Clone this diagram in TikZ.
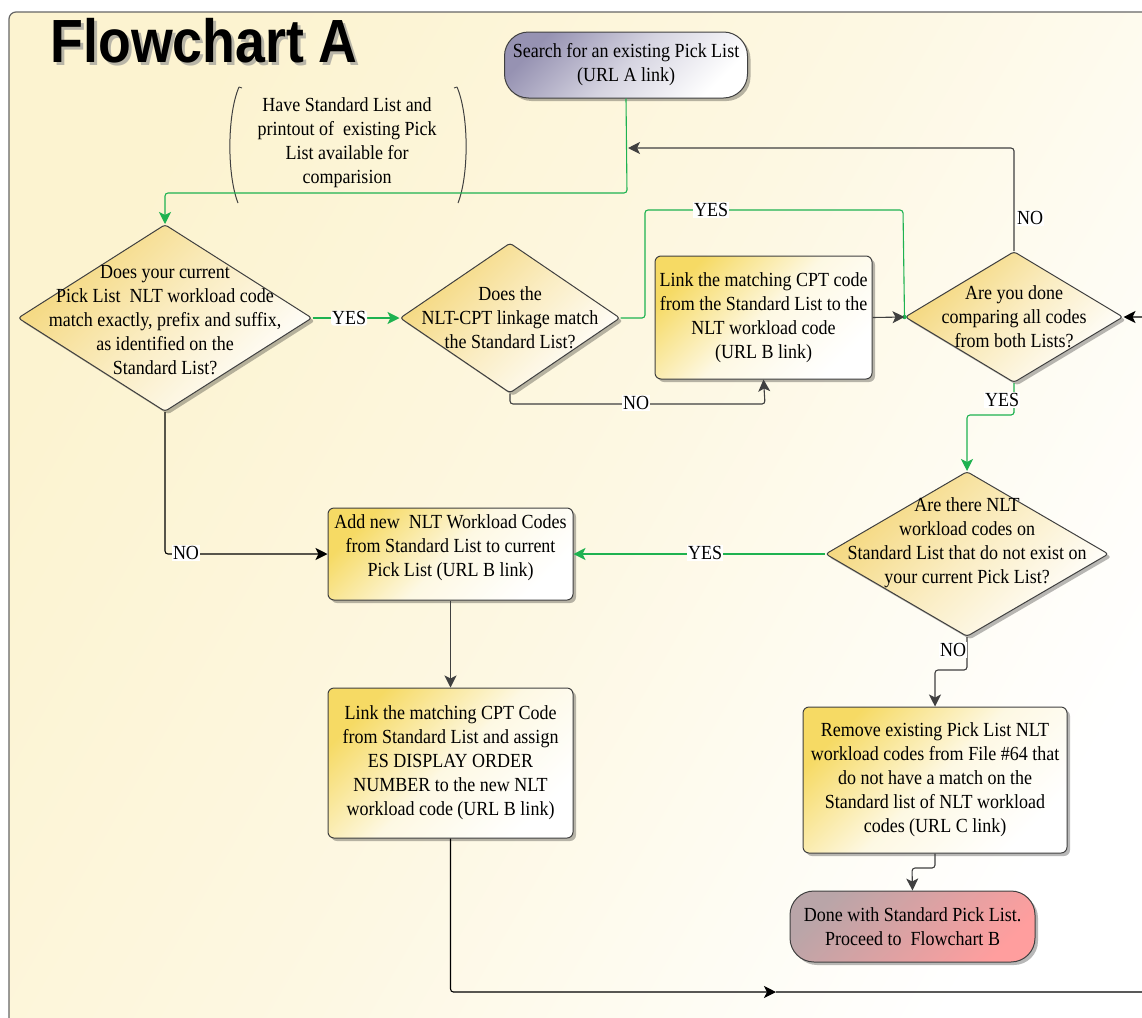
\documentclass[tikz,border=0pt]{standalone}
\usepackage{fontspec}
\setmainfont{Liberation Serif}[FakeStretch=0.9]
\newfontfamily\titlefont{Liberation Sans}[FakeStretch=0.88]
\usetikzlibrary{shapes.geometric,arrows.meta,shadows}
\definecolor{linegray}{RGB}{64,64,64}
\definecolor{flowgreen}{RGB}{30,178,80}
\definecolor{bgy}{RGB}{252,243,208}
\definecolor{boxy}{RGB}{246,218,100}
\definecolor{diay}{RGB}{244,214,120}
\definecolor{startg}{RGB}{150,146,178}
\definecolor{endg}{RGB}{185,165,168}
\definecolor{endp}{RGB}{255,158,158}
\begin{document}
\begin{tikzpicture}[x=1pt, y=-1pt,
  font=\fontsize{20}{24}\selectfont,
  conn/.style={draw=linegray, line width=1.1pt, rounded corners=3pt},
  gconn/.style={draw=flowgreen, line width=1.1pt, rounded corners=3pt},
  arr/.style={-{Stealth[length=12pt,width=12pt,inset=3pt]}},
  shadowed/.style={drop shadow={shadow xshift=3pt, shadow yshift=-3pt, fill=black, opacity=0.28}},
  flowbox/.style={rectangle, rounded corners=6pt, draw=linegray, line width=1pt,
    top color=boxy, bottom color=white, middle color=white!82!boxy, shading angle=45,
    shadowed, align=center, inner sep=0pt},
  decision/.style={diamond, draw=linegray, line width=1pt, inner sep=0pt, rounded corners=3pt,
    top color=diay, bottom color=white, middle color=white!55!diay, shading angle=45, shadowed},
  dtext/.style={align=center, inner sep=0pt},
  lbl/.style={fill=white, inner sep=1pt},
  terminal/.style={rectangle, rounded corners=24pt, draw=linegray, line width=1pt,
    align=center, shadowed, inner sep=0pt}
]
\useasboundingbox (0,0) rectangle (1142,1017);
\clip (0,0) rectangle (1142,1017);
\fill[white] (0,0) rectangle (1142,1017);
\shade[top color=bgy, bottom color=white, middle color=white!40!bgy, shading angle=60,
  draw=linegray!80, line width=1.2pt, rounded corners=7pt] (9,12) rectangle (1170,1040);

% title
\node[anchor=base west, text=black!45, opacity=0.6, font=\fontsize{61}{61}\selectfont\titlefont\bfseries] (titleshadow) at (50,65) {Flowchart A};
\node[anchor=base west, font=\fontsize{61}{61}\selectfont\titlefont\bfseries] (title) at (47,62) {Flowchart A};

% annotation
\node[dtext] (annot) at (347,143) {Have Standard List and\\printout of\ \ existing Pick\\List available for\\comparision};
\draw[linegray, line width=1pt] (239,87) .. controls (227,115) and (227,175) .. (238,203);
\draw[linegray, line width=1pt] (457,87) .. controls (469,115) and (469,175) .. (458,203);
\draw[linegray, line width=0.8pt] (239,87) -- (242,88);
\draw[linegray, line width=0.8pt] (457,87) -- (454,88);

% nodes
\node[terminal, top color=startg, bottom color=white, middle color=white!60!startg, shading angle=45,
  minimum width=243pt, minimum height=66pt] (start) at (626,65) {Search for an existing Pick List\\(URL A link)};

\node[decision, minimum width=294pt, minimum height=187pt] (d1) at (165,318) {};
\node[dtext] (d1t) at (165,320) {Does your current\\Pick List\ \ NLT workload code\\match exactly, prefix and suffix,\\as identified on the\\Standard List?};

\node[decision, minimum width=220pt, minimum height=150pt] (d2) at (510,318) {};
\node[dtext] (d2t) at (510,318) {Does the\\NLT-CPT linkage match\\the Standard List?};

\node[flowbox, minimum width=217pt, minimum height=123pt] (b3) at (763.5,317.5)
  {Link the matching CPT code\\from the Standard List to the\\NLT workload code\\(URL B link)};

\node[decision, minimum width=218pt, minimum height=131pt] (d3) at (1014,317) {};
\node[dtext] (d3t) at (1014,317) {Are you done\\comparing all codes\\from both Lists?};

\node[decision, minimum width=283pt, minimum height=165pt] (d4) at (967,554) {};
\node[dtext] (d4t) at (967,543) {Are there NLT\\workload codes on\\Standard List that do not exist on\\your current Pick List?};

\node[flowbox, minimum width=245pt, minimum height=92pt] (b4) at (450.5,554) {};
\node[dtext] (b4t) at (450.5,548) {Add new\ \ NLT Workload Codes\\from Standard List to current\\Pick List (URL B link)};

\node[flowbox, minimum width=245pt, minimum height=150pt] (b5) at (450.5,763)
  {Link the matching CPT Code\\from Standard List and assign\\ES DISPLAY ORDER\\NUMBER to the new NLT\\workload code (URL B link)};

\node[flowbox, minimum width=264pt, minimum height=146pt] (b6) at (935,780)
  {Remove existing Pick List NLT\\workload codes from File \#64 that\\do not have a match on the\\Standard list of NLT workload\\codes (URL C link)};

\node[terminal, top color=endg, bottom color=endp, shading angle=45,
  minimum width=245pt, minimum height=71pt] (done) at (912.5,926.5) {Done with Standard Pick List.\\Proceed to\ \ Flowchart B};

% coordinates
\coordinate (g1) at (627,193);
\coordinate (ny) at (645,210);
\coordinate (nyr) at (903,210);
\coordinate (nob) at (765,404);
\coordinate (nofb) at (628,148);
\coordinate (yd) at (1014,415);
\coordinate (nd4) at (935,670);
\coordinate (nb6) at (912,868);
\coordinate (midarr) at (776,992);
\coordinate (rt) at (1147,992);

% connectors
\draw[gconn, arr] (start.south) -- (g1) -| (d1.north);
\draw[gconn, arr] (d1.east) -- (d2.west) node[lbl, pos=0.42] (yes1) {YES};
\draw[gconn] (d2.east) -| (ny) -- (nyr) -- (d3.west);
\node[lbl] (yes2) at (711,210) {YES};
\fill[flowgreen] (d3.west) circle (2.2pt);
\draw[conn, arr] (d2.south) |- (nob) -- (b3.south);
\node[lbl] (no1) at (636,403) {NO};
\draw[conn, arr] (b3.east) -- (d3.west);
\draw[conn, arr] (d3.north) |- (nofb);
\node[lbl, anchor=west] (no2) at (1016,218) {NO};
\draw[gconn, arr] (d3.south) |- (yd) -| (d4.north);
\node[lbl] (yes3) at (1002,400) {YES};
\draw[gconn, arr] (d4.west) -- (b4.east);
\node[lbl] (yes4) at (705,553) {YES};
\draw[conn, black, arr] (d1.south) |- (b4.west);
\node[lbl] (no3) at (186,553) {NO};
\draw[conn, arr] (b4.south) -- (b5.north);
\draw[conn, black, arr] (b5.south) |- (midarr);
\draw[conn, black, arr] (midarr) -- (rt) |- (d3.east);
\draw[conn, arr] (d4.south) |- (nd4) -- (b6.north);
\node[lbl] (no4) at (953,650) {NO};
\draw[conn, arr] (b6.south) |- (nb6) -- (done.north);
\end{tikzpicture}
\end{document}
